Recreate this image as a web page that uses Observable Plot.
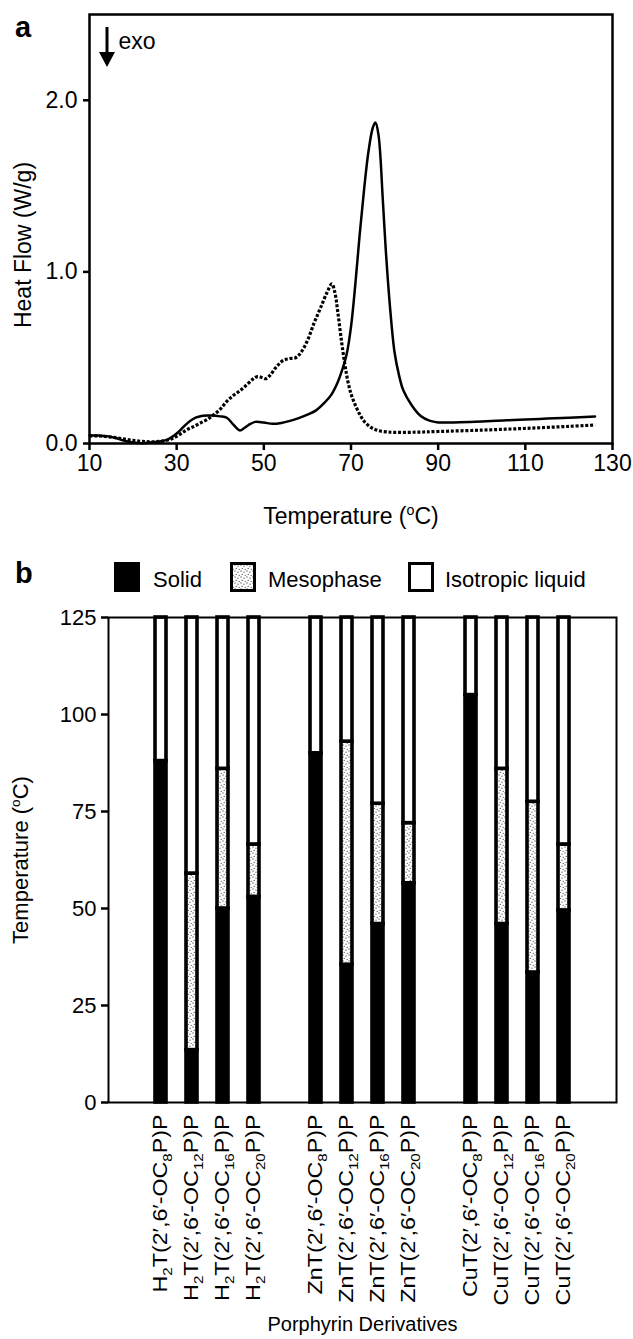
<!DOCTYPE html>
<html><head><meta charset="utf-8">
<script src="https://cdn.jsdelivr.net/npm/d3@7"></script>
<script src="https://cdn.jsdelivr.net/npm/@observablehq/plot@0.6"></script>
<style>
body{margin:0;background:#fff;}
#wrap{position:relative;width:633px;height:1339px;overflow:hidden;background:#fff;font-family:"Liberation Sans",Arial,sans-serif;}
#wrap > svg{position:absolute;left:0;}
</style></head><body><div id="wrap"></div>
<script>
// ---------- Panel a data (DSC traces) ----------
const solidT = [10,12,14,16,18,20,22,24,26,28,30,31.5,33,34.5,36,38,40,41.5,43,44.5,45.5,46.5,48,50,52,54,56,58,60,62,64,65.5,67,68,69,70,71,72,73,74,75,75.6,76.3,77.3,78,79,80,81,82,84,86,88,90,95,100,105,110,115,120,126];
const solidV = [0.047,0.046,0.043,0.032,0.016,0.006,0.002,0.006,0.012,0.024,0.058,0.095,0.13,0.152,0.162,0.163,0.158,0.15,0.11,0.076,0.09,0.108,0.126,0.122,0.115,0.12,0.132,0.148,0.168,0.193,0.24,0.285,0.36,0.43,0.52,0.68,0.93,1.22,1.48,1.7,1.84,1.87,1.8,1.42,1.12,0.78,0.53,0.4,0.31,0.22,0.16,0.133,0.123,0.124,0.128,0.134,0.14,0.145,0.15,0.157];
const dottedT = [10,12,14,16,18,20,22,24,26,28,29.5,31,32.5,34,35.5,37,38.5,40,41.5,43,44.5,46,47.5,48.5,49.5,50.5,51.5,53,54.5,56,57.3,58.5,60,61.5,63,64.5,65.6,66.3,67,67.8,68.6,69.3,70,70.8,72,73,74.5,76,78,80,85,90,100,110,120,126];
const dottedV = [0.045,0.044,0.04,0.034,0.026,0.018,0.012,0.01,0.012,0.02,0.035,0.058,0.082,0.1,0.12,0.14,0.167,0.2,0.245,0.28,0.307,0.34,0.375,0.39,0.385,0.378,0.4,0.45,0.485,0.495,0.5,0.53,0.6,0.7,0.79,0.88,0.93,0.88,0.76,0.6,0.46,0.36,0.29,0.235,0.17,0.13,0.095,0.077,0.068,0.065,0.066,0.07,0.078,0.088,0.1,0.108];
const xTicksA = [10,30,50,70,90,110,130];
const yTicksA = [0,1,2];

// ---------- Panel b data (phase temperatures) ----------
const compounds = [
  "H₂T(2′,6′-OC₈P)P","H₂T(2′,6′-OC₁₂P)P","H₂T(2′,6′-OC₁₆P)P","H₂T(2′,6′-OC₂₀P)P",
  "ZnT(2′,6′-OC₈P)P","ZnT(2′,6′-OC₁₂P)P","ZnT(2′,6′-OC₁₆P)P","ZnT(2′,6′-OC₂₀P)P",
  "CuT(2′,6′-OC₈P)P","CuT(2′,6′-OC₁₂P)P","CuT(2′,6′-OC₁₆P)P","CuT(2′,6′-OC₂₀P)P"
];
const solidTop = [88,13.5,50,53,90,35.5,46,56.5,105,46,33.5,49.5];
const mesoTop  = [88,59,86,66.5,90,93,77,72,105,86,77.5,66.5];
const liquidTop = 125;
const yTicksB = [0,25,50,75,100,125];
const phases = ["Solid","Mesophase","Isotropic liquid"];

const FONT = '"Liberation Sans", Arial, Helvetica, sans-serif';
const wrap = document.getElementById("wrap");

// helpers for sub/superscripts in axis texts
const SUB = "₀₁₂₃₄₅₆₇₈₉";
function subscriptify(el, size, shift) {
  const s = el.textContent; const runs = [];
  for (const ch of s) {
    const k = SUB.indexOf(ch); const isSub = k >= 0; const c = isSub ? String(k) : ch;
    if (runs.length && runs[runs.length-1].sub === isSub) runs[runs.length-1].t += c;
    else runs.push({sub:isSub, t:c});
  }
  if (!runs.some(r => r.sub)) return;
  const sel = d3.select(el); sel.text(null);
  let shifted = false;
  runs.forEach(r => {
    const ts = sel.append("tspan").text(r.t);
    if (r.sub) { ts.attr("font-size", size).attr("dy", shift); shifted = true; }
    else if (shifted) { ts.attr("dy", -shift); shifted = false; }
  });
}
function superscriptify(svg, fs) {
  d3.select(svg).selectAll("text").each(function() {
    const s = this.textContent; const i = s.indexOf("º");
    if (i < 0) return;
    const sel = d3.select(this); sel.text(null);
    sel.append("tspan").text(s.slice(0, i));
    sel.append("tspan").attr("font-size", fs*0.62).attr("dy", -fs*0.38).text("o");
    sel.append("tspan").attr("dy", fs*0.38).text(s.slice(i+1));
  });
}

// ---------- Panel a ----------
const solidData = solidT.map((t,i) => ({t, v: solidV[i]}));
const dottedData = dottedT.map((t,i) => ({t, v: dottedV[i]}));
const plotA = Plot.plot({
  width: 633, height: 545,
  marginLeft: 89, marginRight: 21, marginTop: 14, marginBottom: 102,
  style: {fontFamily: FONT, fontSize: "23px", color: "black", background: "transparent", overflow: "visible"},
  x: {domain: [10,130]},
  y: {domain: [0,2.5]},
  marks: [
    Plot.line(dottedData, {x:"t", y:"v", curve:"catmull-rom", stroke:"black", strokeWidth:3.2, strokeDasharray:"3,1.8", strokeLinecap:"butt"}),
    Plot.line(solidData, {x:"t", y:"v", curve:"catmull-rom", stroke:"black", strokeWidth:2.5}),
    Plot.frame({stroke:"black", strokeWidth:2.5}),
    Plot.axisX({ticks: xTicksA, tickSize: 7, tickPadding: 4, strokeWidth: 2.5, fontSize: 23,
      label: "Temperature (ºC)", labelAnchor: "center", labelOffset: 80, labelArrow: "none"}),
    Plot.axisY({ticks: yTicksA, tickSize: 6, tickPadding: 6, strokeWidth: 2.5, fontSize: 23, tickFormat: d3.format(".1f"),
      label: "Heat Flow (W/g)", labelAnchor: "center", labelOffset: 75, labelArrow: "none"}),
    Plot.text(["exo"], {frameAnchor: "top-left", text: d => d, dx: 29, dy: 18, fontSize: 23, textAnchor: "start"})
  ]
});
plotA.style.top = "0px";
wrap.appendChild(plotA);
superscriptify(plotA, 23);
d3.select(plotA).selectAll('g[aria-label="y-axis label"] text').each(function(){
  this.setAttribute("transform", "translate(0,16) " + (this.getAttribute("transform") || ""));
});

// ---------- Panel b ----------
const xDomain = [" ", ...compounds.slice(0,4), "  ", ...compounds.slice(4,8), "   ", ...compounds.slice(8), "    "];
const rows = compounds.flatMap((c,i) => [
  {c, phase: phases[0], y1: 0, y2: solidTop[i]},
  {c, phase: phases[1], y1: solidTop[i], y2: mesoTop[i]},
  {c, phase: phases[2], y1: mesoTop[i], y2: liquidTop}
]).filter(d => d.y2 > d.y1);
const barOpts = {x: "c", y1: "y1", y2: "y2", stroke: "black", strokeWidth: 3.6};
const plotB = Plot.plot({
  width: 633, height: 739,
  marginLeft: 108, marginRight: 17, marginTop: 17, marginBottom: 237,
  style: {fontFamily: FONT, fontSize: "22px", color: "black", background: "transparent", overflow: "visible"},
  x: {type: "band", domain: xDomain, paddingInner: 0.64, paddingOuter: 0.32},
  y: {domain: [0,125]},
  marks: [
    Plot.barY(rows.filter(d => d.phase === phases[0]), {...barOpts, fill: "black"}),
    Plot.barY(rows.filter(d => d.phase === phases[1]), {...barOpts, fill: "url(#stipple)"}),
    Plot.barY(rows.filter(d => d.phase === phases[2]), {...barOpts, fill: "white"}),
    Plot.frame({stroke: "black", strokeWidth: 2}),
    Plot.axisY({ticks: yTicksB, tickSize: 7, tickPadding: 5, strokeWidth: 2.5, fontSize: 22,
      label: "Temperature (ºC)", labelAnchor: "center", labelOffset: 96, labelArrow: "none"}),
    Plot.axisX({ticks: compounds, tickSize: 0, tickPadding: 12, tickRotate: -90, fontSize: 20,
      label: "Porphyrin Derivatives", labelAnchor: "center", labelOffset: 228, labelArrow: "none"})
  ]
});
plotB.style.top = "600px";
wrap.appendChild(plotB);
superscriptify(plotB, 22);
const tickTexts = d3.select(plotB).selectAll('g[aria-label="x-axis tick label"] text');
tickTexts.each(function(){ subscriptify(this, 13, 5); });
// the reference's rotated labels are elongated along their reading direction
let stretch = null;
tickTexts.each(function(){
  const len = this.getComputedTextLength();
  if (stretch === null) stretch = 178 / len;
  this.setAttribute("textLength", (len * stretch).toFixed(1));
  this.setAttribute("lengthAdjust", "spacingAndGlyphs");
});

function addStipple(svg, id) {
  let defs = d3.select(svg).select("defs");
  if (defs.empty()) defs = d3.select(svg).insert("defs", ":first-child");
  const p = defs.append("pattern").attr("id", id).attr("patternUnits", "userSpaceOnUse").attr("width", 6).attr("height", 6);
  p.append("rect").attr("width", 6).attr("height", 6).attr("fill", "white");
  [[1,1],[4,2.2],[2.2,4.4],[5.2,5.3]].forEach(([x,y]) => p.append("circle").attr("cx", x).attr("cy", y).attr("r", 0.65).attr("fill", "#555"));
}
addStipple(plotB, "stipple");

// ---------- overlay: panel letters, exo arrow, legend ----------
const ov = d3.select(wrap).append("svg").attr("width", 633).attr("height", 1339)
  .style("top", "0px").style("pointer-events", "none").attr("font-family", FONT);
addStipple(ov.node(), "stipple2");
ov.append("text").attr("x", 15).attr("y", 37).attr("font-size", 29).attr("font-weight", "bold").text("a");
ov.append("text").attr("x", 15).attr("y", 583).attr("font-size", 29).attr("font-weight", "bold").text("b");
// exo arrow
ov.append("line").attr("x1", 107).attr("x2", 107).attr("y1", 27).attr("y2", 54).attr("stroke", "black").attr("stroke-width", 3);
ov.append("path").attr("d", "M99,52L115,52L107,67Z").attr("fill", "black");
// legend
const leg = [
  {x: 114, fill: "black", tx: 153},
  {x: 230, fill: "url(#stipple2)", tx: 268},
  {x: 408, fill: "white", tx: 445}
];
leg.forEach((d, i) => {
  ov.append("rect").attr("x", d.x + 1.5).attr("y", 563.5).attr("width", 23).attr("height", 27)
    .attr("fill", d.fill).attr("stroke", "black").attr("stroke-width", 3);
  ov.append("text").attr("x", d.tx).attr("y", 587).attr("font-size", 22).text(phases[i]);
});
</script></body></html>
